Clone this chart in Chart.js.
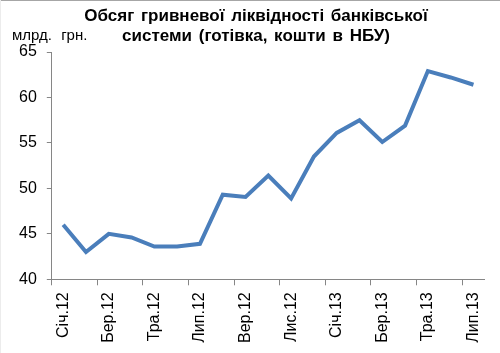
<!DOCTYPE html>
<html>
<head>
<meta charset="utf-8">
<script src="https://cdn.jsdelivr.net/npm/chart.js@4.4.1/dist/chart.umd.min.js"></script>
<style>
  body { margin: 0; background: #fff; }
  #wrap { width: 500px; height: 353px; position: relative; }
</style>
</head>
<body>
<div id="wrap"><canvas id="liquidity"></canvas></div>
<script>
// months Jan 2012 - Jul 2013, only every second one is labelled
const months = ['Січ.12', 'Лют.12', 'Бер.12', 'Кві.12', 'Тра.12', 'Чер.12', 'Лип.12', 'Сер.12',
  'Вер.12', 'Жов.12', 'Лис.12', 'Гру.12', 'Січ.13', 'Лют.13', 'Бер.13', 'Кві.13',
  'Тра.13', 'Чер.13', 'Лип.13'];
const liquidity = [46.0, 43.0, 45.0, 44.6, 43.6, 43.6, 43.9, 49.3, 49.05, 51.4,
  48.9, 53.5, 56.1, 57.5, 55.1, 56.9, 62.9, 62.2, 61.4];
const titleLines = ['Обсяг гривневої ліквідності банківської', 'системи (готівка, кошти в НБУ)'];
const unitLabel = 'млрд. грн.';
const yTicks = [40, 45, 50, 55, 60, 65];

const axisGrey = '#868686';
const fontName = '"Liberation Sans", Arial, sans-serif';

// title and unit label drawn by hand so they sit where the original has them
const headerPlugin = {
  id: 'header',
  afterDraw(chart) {
    const ctx = chart.ctx;
    ctx.save();
    ctx.fillStyle = '#000';
    ctx.textBaseline = 'alphabetic';
    ctx.textAlign = 'center';
    ctx.font = 'bold 17px ' + fontName;
    ctx.wordSpacing = '2px';
    ctx.fillText(titleLines[0], 256, 21);
    ctx.fillText(titleLines[1], 256, 41);
    ctx.textAlign = 'left';
    ctx.font = '15px ' + fontName;
    ctx.wordSpacing = '5px';
    ctx.fillText(unitLabel, 12, 40);
    ctx.wordSpacing = '0px';
    // thin frame line along the top
    ctx.fillStyle = '#a6a6a6';
    ctx.fillRect(0, 0, chart.width, 1);
    ctx.fillStyle = '#ececec';
    ctx.fillRect(0, 0, 1, chart.height);
    ctx.restore();
  }
};

new Chart(document.getElementById('liquidity'), {
  type: 'line',
  data: {
    labels: months,
    datasets: [{
      data: liquidity,
      borderColor: '#4a7ebb',
      borderWidth: 4,
      pointRadius: 0,
      tension: 0,
      fill: false
    }]
  },
  options: {
    responsive: true,
    maintainAspectRatio: false,
    animation: false,
    layout: { padding: { top: 52, left: 9, right: 13, bottom: 3 } },
    plugins: {
      legend: { display: false },
      tooltip: { enabled: false },
      title: { display: false }
    },
    scales: {
      x: {
        type: 'category',
        offset: true,
        grid: {
          offset: true,
          drawOnChartArea: false,
          drawTicks: true,
          tickLength: 6,
          color: ctx => (ctx.index % 2 === 0 ? axisGrey : 'transparent')
        },
        border: { color: axisGrey, width: 1 },
        ticks: {
          autoSkip: false,
          minRotation: 90,
          maxRotation: 90,
          padding: 7,
          color: '#000',
          font: { family: fontName, size: 16 },
          callback: function (val, i) {
            return i % 2 === 0 ? this.getLabelForValue(val) : '';
          }
        }
      },
      y: {
        min: 40,
        max: 65,
        afterBuildTicks: axis => { axis.ticks = yTicks.map(v => ({ value: v })); },
        grid: {
          drawOnChartArea: false,
          drawTicks: true,
          tickLength: 5,
          color: axisGrey
        },
        border: { color: axisGrey, width: 1 },
        ticks: {
          padding: 10,
          color: '#000',
          font: { family: fontName, size: 16 }
        }
      }
    }
  },
  plugins: [headerPlugin]
});
</script>
</body>
</html>
